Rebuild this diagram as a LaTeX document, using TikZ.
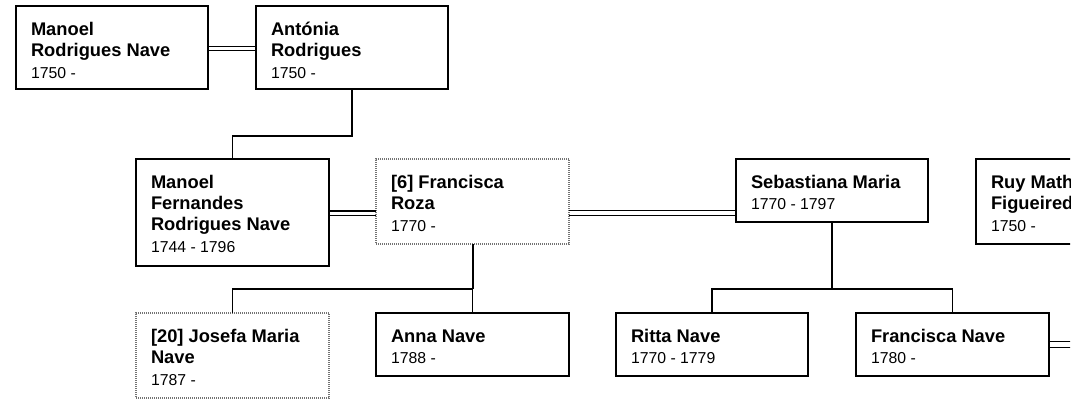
\documentclass[tikz,border=0pt]{standalone}
\usepackage{fontspec}
\setmainfont{Liberation Sans}
\newcommand\nmf{\fontsize{18.3}{21.2}\selectfont\bfseries}
\newcommand\dtf{\fontsize{15.8}{21.2}\selectfont\mdseries}
\tikzset{
  pbox/.style={draw=black, line width=1.6pt, fill=white, rectangle, inner sep=0pt, outer sep=0pt, anchor=north west},
  dbox/.style={draw=black!55, line width=1.2pt, dash pattern=on 1pt off 1pt, fill=white, rectangle, inner sep=0pt, outer sep=0pt, anchor=north west},
  ptext/.style={anchor=base west, inner sep=0pt, outer sep=0pt},
  conn/.style={line width=1.5pt},
  pconn/.style={line width=2pt},
  marr/.style={line width=1.4pt},
}
\newcommand\person[7]{%
  \node[#7, minimum width={(#4-#2)*1pt}, minimum height={(#5-#3)*1pt}] (#1) at (#2,#3) {};
  \node[ptext] (#1t) at ([xshift=15pt,yshift=-29.3pt]#1.north west) {\parbox[t]{185pt}{#6}};
}
\begin{document}
\begin{tikzpicture}[x=1pt,y=-1pt]
\useasboundingbox[fill=white] (0,0) rectangle (1087,401);
\clip (0,0) rectangle (1070,401);
% levels
\coordinate (bar1) at (0,136);
\coordinate (bar2) at (0,289);
\coordinate (m1a) at (0,46.5);
\coordinate (m1b) at (0,50.5);
\coordinate (m2a) at (0,211);
\coordinate (m2b) at (0,215.5);
\coordinate (m3a) at (0,210.5);
\coordinate (m3b) at (0,215.5);
\coordinate (m4a) at (0,341.5);
\coordinate (m4b) at (0,347.5);
\coordinate (jr) at (1075,344);
% persons
\person{A}{16}{6}{208}{89}{\nmf Manoel\\Rodrigues Nave\\[0.4pt]\dtf 1750 -}{pbox}
\person{B}{256}{6}{448}{89}{\nmf Antónia\\Rodrigues\\[0.4pt]\dtf 1750 -}{pbox}
\person{C}{136}{159}{329}{266}{\nmf Manoel\\Fernandes\\Rodrigues Nave\\[0.4pt]\dtf 1744 - 1796}{pbox}
\person{D}{376}{159}{569}{244}{\nmf [6] Francisca\\Roza\\[0.4pt]\dtf 1770 -}{dbox}
\person{E}{736}{159}{928}{222}{\nmf Sebastiana Maria\\[0.4pt]\dtf 1770 - 1797}{pbox}
\person{F}{976}{159}{1168}{244}{\nmf Ruy Mathias\\Figueiredo\\[0.4pt]\dtf 1750 -}{pbox}
\person{G}{136}{313}{329}{398}{\nmf [20] Josefa Maria\\Nave\\[0.4pt]\dtf 1787 -}{dbox}
\person{H}{376}{313}{569}{376}{\nmf Anna Nave\\[0.4pt]\dtf 1788 -}{pbox}
\person{I}{616}{313}{808}{376}{\nmf Ritta Nave\\[0.4pt]\dtf 1770 - 1779}{pbox}
\person{J}{856}{313}{1049}{376}{\nmf Francisca Nave\\[0.4pt]\dtf 1780 -}{pbox}
% marriages
\draw[marr] (A.east |- m1a) -- (B.west |- m1a);
\draw[marr] (A.east |- m1b) -- (B.west |- m1b);
\draw[marr] (C.east |- m2a) -- (D.west |- m2a);
\draw[marr] (C.east |- m2b) -- (D.west |- m2b);
\draw[marr] (D.east |- m3a) -- (E.west |- m3a);
\draw[marr] (D.east |- m3b) -- (E.west |- m3b);
\draw[marr] (J.east |- m4a) -- (jr |- m4a);
\draw[marr] (J.east |- m4b) -- (jr |- m4b);
% descent
\draw[conn] (B.south) -- (B.south |- bar1) -| (C.north);
\draw[pconn] (D.south) -- (D.south |- bar2);
\draw[conn] (G.north) |- (H.north |- bar2) -- (H.north);
\draw[pconn] (E.south) -- (E.south |- bar2);
\draw[conn] (I.north) |- (J.north |- bar2) -- (J.north);
\end{tikzpicture}
\end{document}
